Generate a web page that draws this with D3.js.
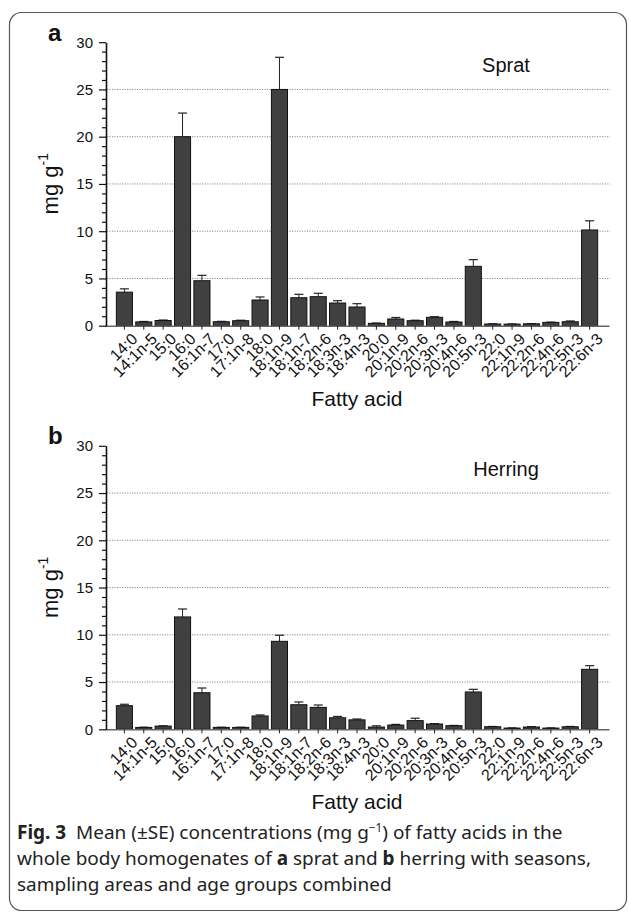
<!DOCTYPE html>
<html>
<head>
<meta charset="utf-8">
<script src="https://cdn.jsdelivr.net/npm/d3@7"></script>
<style>
  html, body { margin: 0; padding: 0; background: #fff; }
  svg { display: block; }
</style>
</head>
<body>
<svg id="fig" width="629" height="913"></svg>
<script>
// Fatty acid categories (x axis)
const fattyAcids = ["14:0","14:1n-5","15:0","16:0","16:1n-7","17:0","17:1n-8","18:0","18:1n-9","18:1n-7","18:2n-6","18:3n-3","18:4n-3","20:0","20:1n-9","20:2n-6","20:3n-3","20:4n-6","20:5n-3","22:0","22:1n-9","22:2n-6","22:4n-6","22:5n-3","22:6n-3"];

// Sprat: mean concentration and standard error (mg g-1)
const spratMean = [3.55,0.40,0.55,20.0,4.76,0.42,0.53,2.72,25.0,2.96,3.07,2.40,1.98,0.25,0.71,0.53,0.89,0.39,6.28,0.18,0.17,0.20,0.35,0.42,10.13];
const spratSE   = [0.35,0.05,0.05,2.50,0.57,0.04,0.05,0.32,3.40,0.36,0.36,0.25,0.35,0.03,0.16,0.05,0.06,0.06,0.71,0.02,0.02,0.02,0.03,0.08,0.97];

// Herring: mean concentration and standard error (mg g-1)
const herringMean = [2.50,0.20,0.34,11.89,3.87,0.20,0.20,1.41,9.31,2.60,2.32,1.22,1.00,0.24,0.45,0.92,0.56,0.38,3.95,0.27,0.13,0.24,0.13,0.27,6.35];
const herringSE   = [0.15,0.02,0.03,0.84,0.50,0.02,0.02,0.11,0.64,0.29,0.25,0.14,0.09,0.13,0.07,0.25,0.04,0.03,0.28,0.03,0.02,0.04,0.02,0.03,0.38];

// Axis ticks
const yTicks = [0,5,10,15,20,25,30];
const yMinorTicks = d3.range(0, 31).filter(v => v % 5 !== 0);
const gridValues = [5,10,15,20,25];

const svg = d3.select("#fig");
const FONT = "'Liberation Sans', Arial, sans-serif";

// Figure frame
svg.append("rect")
  .attr("x", 9.5).attr("y", 12.5)
  .attr("width", 617).attr("height", 898)
  .attr("rx", 12).attr("ry", 12)
  .attr("fill", "none").attr("stroke", "#555").attr("stroke-width", 1.2);

const panels = [
  { letter: "a", species: "Sprat",   mean: spratMean,   se: spratSE,   zeroY: 325.7 },
  { letter: "b", species: "Herring", mean: herringMean, se: herringSE, zeroY: 729.3 }
];

const plotH = 283.5;
const xLeft = 105, xRight = 609, axisX = 106;

panels.forEach(p => {
  const g = svg.append("g");
  const y = d3.scaleLinear().domain([0, 30]).range([p.zeroY, p.zeroY - plotH]);
  const x = d3.scaleBand().domain(fattyAcids).range([xLeft, xRight])
    .paddingInner(0.17).paddingOuter(0.585);

  // dotted horizontal grid
  g.append("g").selectAll("line").data(gridValues).join("line")
    .attr("x1", axisX + 1).attr("x2", 610)
    .attr("y1", d => y(d)).attr("y2", d => y(d))
    .attr("stroke", "#8a8a8a").attr("stroke-width", 1)
    .attr("stroke-dasharray", "1.2,1.3");

  const data = fattyAcids.map((c, i) => ({ c, m: p.mean[i], e: p.se[i] }));

  // error bars (upper half only)
  const eb = g.append("g").selectAll("g").data(data).join("g");
  eb.append("line")
    .attr("x1", d => x(d.c) + x.bandwidth() / 2).attr("x2", d => x(d.c) + x.bandwidth() / 2)
    .attr("y1", d => y(d.m)).attr("y2", d => y(d.m + d.e))
    .attr("stroke", "#222").attr("stroke-width", 1);
  eb.append("line")
    .attr("x1", d => x(d.c) + x.bandwidth() / 2 - 4.5).attr("x2", d => x(d.c) + x.bandwidth() / 2 + 4.5)
    .attr("y1", d => y(d.m + d.e)).attr("y2", d => y(d.m + d.e))
    .attr("stroke", "#222").attr("stroke-width", 1.2);

  // bars
  g.append("g").selectAll("rect").data(data).join("rect")
    .attr("x", d => x(d.c)).attr("width", x.bandwidth())
    .attr("y", d => y(d.m)).attr("height", d => y(0) - y(d.m))
    .attr("fill", "#404040").attr("stroke", "#111").attr("stroke-width", 1);

  // x axis
  const xAxis = g.append("g").attr("transform", `translate(0,${p.zeroY})`)
    .call(d3.axisBottom(x).tickSize(4).tickSizeOuter(0));
  xAxis.select(".domain").attr("stroke", "#666").attr("stroke-width", 1.6);
  xAxis.selectAll(".tick line").attr("stroke", "#222").attr("stroke-width", 1);
  xAxis.selectAll(".tick text")
    .attr("font-family", FONT).attr("font-size", 16).attr("fill", "#111")
    .attr("text-anchor", "end")
    .attr("transform", "translate(6,6) rotate(-45)")
    .attr("dy", "0.72em").attr("y", 0);

  // y axis: minor then major ticks
  g.append("g").attr("transform", `translate(${axisX},0)`)
    .call(d3.axisLeft(y).tickValues(yMinorTicks).tickSize(4).tickFormat(""))
    .call(s => s.select(".domain").remove())
    .selectAll(".tick line").attr("stroke", "#111").attr("stroke-width", 1.2);
  const yAxis = g.append("g").attr("transform", `translate(${axisX},0)`)
    .call(d3.axisLeft(y).tickValues(yTicks).tickSize(7).tickSizeOuter(0).tickPadding(6));
  yAxis.select(".domain").attr("stroke", "#111").attr("stroke-width", 1.6);
  yAxis.selectAll(".tick line").attr("stroke", "#111").attr("stroke-width", 1.2);
  yAxis.selectAll(".tick text").attr("font-family", FONT).attr("font-size", 15).attr("fill", "#111");

  // y-axis title
  const yt = g.append("text")
    .attr("transform", `translate(58,${p.zeroY - 142}) rotate(-90)`)
    .attr("text-anchor", "middle")
    .attr("font-family", FONT).attr("font-size", 22).attr("fill", "#111");
  yt.append("tspan").text("mg g");
  yt.append("tspan").attr("font-size", 14).attr("dy", -10).text("-1");

  // x-axis title
  g.append("text").attr("x", 357).attr("y", p.zeroY + 80)
    .attr("text-anchor", "middle")
    .attr("font-family", FONT).attr("font-size", 21).attr("fill", "#111")
    .text("Fatty acid");

  // panel letter
  g.append("text").attr("x", 48).attr("y", p.zeroY - 285)
    .attr("font-family", FONT).attr("font-weight", "bold").attr("font-size", 24).attr("fill", "#111")
    .text(p.letter);

  // species label
  g.append("text").attr("x", 506).attr("y", p.zeroY - 253.5)
    .attr("text-anchor", "middle")
    .attr("font-family", FONT).attr("font-size", 20).attr("fill", "#111")
    .text(p.species);
});

// Figure caption, sized so the first line spans the frame's text width
const CAP = "'Noto Sans', 'Open Sans', sans-serif";
const capLines = [
  { y: 839, parts: [["Fig. 3", true], ["  Mean (±SE) concentrations (mg g", false], ["−1", false, "sup"], [") of fatty acids in the", false, "after"]] },
  { y: 865, parts: [["whole body homogenates of ", false], ["a", true], [" sprat and ", false], ["b", true], [" herring with seasons,", false]] },
  { y: 891, parts: [["sampling areas and age groups combined", false]] }
];
const capTexts = capLines.map(l => {
  const t = svg.append("text").attr("x", 17).attr("y", l.y)
    .attr("font-family", CAP).attr("font-size", 17).attr("fill", "#222")
    .style("white-space", "pre");
  l.parts.forEach(([s, bold, kind]) => {
    const ts = t.append("tspan").text(s).attr("font-weight", bold ? "bold" : "normal");
    if (kind === "sup") ts.attr("font-size", "0.62em").attr("dy", -7);
    if (kind === "after") ts.attr("dy", 7);
  });
  return t;
});
const firstW = capTexts[0].node().getComputedTextLength();
const capSize = 17 * 546 / firstW;
capTexts.forEach(t => t.attr("font-size", capSize));
</script>
</body>
</html>
